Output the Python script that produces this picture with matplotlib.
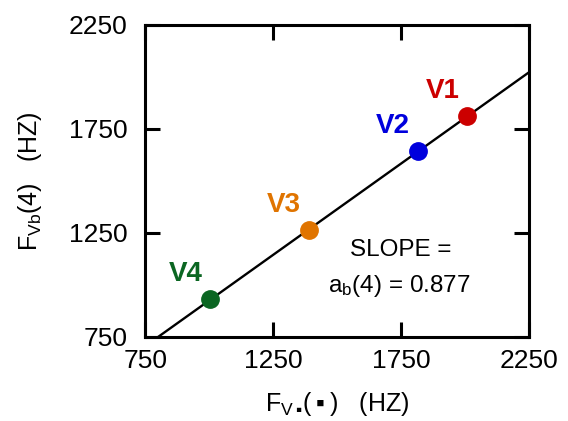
import numpy as np
import matplotlib
matplotlib.use('Agg')
import matplotlib.pyplot as plt

plt.rcParams['font.family'] = ['Liberation Sans', 'DejaVu Sans']
plt.rcParams['mathtext.fontset'] = 'custom'
plt.rcParams['mathtext.rm'] = 'Liberation Sans'
plt.rcParams['mathtext.it'] = 'Liberation Sans'
plt.rcParams['mathtext.default'] = 'regular'
plt.rcParams['mathtext.fallback'] = 'stixsans'

# values
labels = ['V1', 'V2', 'V3', 'V4']
f_x = [2010, 1817, 1390, 1004]
f_y = [1810, 1641, 1263, 931]
colors = ['#cc0000', '#0000dd', '#e07400', '#0b6622']
slope = 0.877
intercept = 48
ticks = [750, 1250, 1750, 2250]

fig = plt.figure(figsize=(5.68, 4.21), dpi=100)
ax = fig.add_axes([0.256, 0.2, 0.675, 0.741])

xl = np.array([700, 2300])
ax.plot(xl, slope * xl + intercept, color='black', lw=1.7, zorder=2)

for lab, x, y, c in zip(labels, f_x, f_y, colors):
    ax.plot(x, y, 'o', color=c, ms=12.5, zorder=3)
    ax.annotate(lab, (x, y), xytext=(-18, 18), textcoords='offset points',
                ha='center', va='center', color=c, fontsize=20,
                fontweight='bold')

ax.text(1748, 1167, 'SLOPE =', ha='center', va='center', fontsize=17.5)
ax.text(1745, 995, '$a_b$(4) = 0.877', ha='center', va='center', fontsize=17.5)

ax.set_xlim(750, 2250)
ax.set_ylim(750, 2250)
ax.set_xticks(ticks)
ax.set_yticks(ticks)
ax.tick_params(direction='in', length=11, width=2.2, top=True, right=True,
               labelsize=19)
ax.tick_params(axis='y', pad=13)
ax.tick_params(axis='x', pad=9)
for s in ax.spines.values():
    s.set_linewidth(2.2)

ax.set_xlabel('$F_{V\u2009\u25aa}$(\u2009\u25aa\u2009)   (HZ)', fontsize=18,
              labelpad=12)
ax.set_ylabel('$F_{Vb}$(4)   (HZ)', fontsize=18, labelpad=18)

fig.savefig('out.png', dpi=100)
